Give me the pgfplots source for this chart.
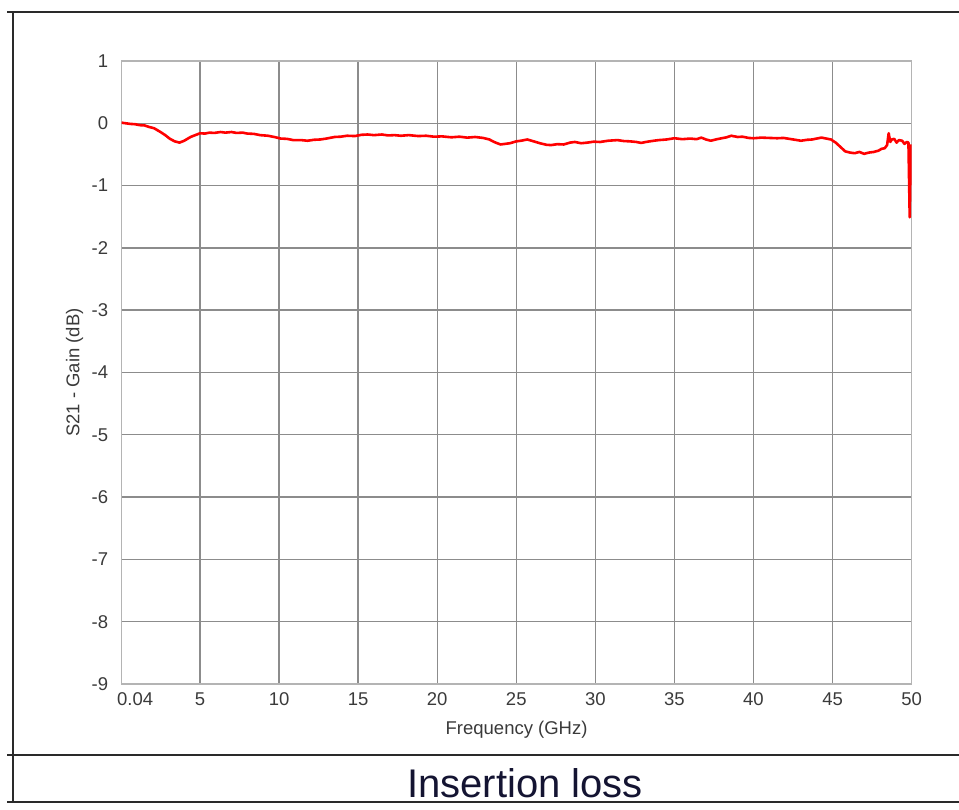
\documentclass[border=0pt]{standalone}
\usepackage{pgfplots}
\pgfplotsset{compat=1.18}
\usepackage{fontspec}
\setmainfont{Liberation Sans}
\definecolor{gridc}{HTML}{8C8C8C}
\definecolor{axc}{HTML}{B4B4B4}
\definecolor{txt}{HTML}{3A3A3A}
\definecolor{cap}{RGB}{20,20,50}
\definecolor{framec}{HTML}{2A2A2A}
\begin{document}
\begin{tikzpicture}[x=1pt,y=1pt]
\useasboundingbox (0,0) rectangle (959,809);
\begin{axis}[
  at={(121.6pt,125pt)}, anchor=south west,
  scale only axis, width=790pt, height=623pt,
  xmin=0.04, xmax=50, ymin=-9, ymax=1,
  xtick={5,10,...,50}, ytick={-9,-8,...,1},
  extra x ticks={0.04}, extra x tick labels={0.04},
  extra x tick style={grid=none, xticklabel style={anchor=north west, xshift=-8pt}},
  major tick length=0pt,
  grid=major,
  major grid style={gridc, line width=1.4pt},
  axis line style={axc, line width=1.4pt},
  ticklabel style={font=\fontsize{18.5}{20}\selectfont, text=txt},
  /pgf/number format/assume math mode=true,
  xticklabel style={yshift=-5pt},
  yticklabel style={xshift=-10pt},
  xlabel={Frequency (GHz)},
  ylabel={S21 - Gain (dB)},
  label style={font=\fontsize{18.5}{20}\selectfont, text=txt},
  xlabel style={at={(axis description cs:0.5,0)}, anchor=center, yshift=-46pt},
  ylabel style={at={(axis description cs:0,0.5)}, anchor=center, rotate=0, yshift=47pt},
]
\addplot[red, line width=2.6pt, line join=round] coordinates {
(0.04,0.01) (0.3,0.00) (0.6,-0.01) (0.9,-0.015) (1.2,-0.03) (1.5,-0.035) (1.8,-0.06)
(2.1,-0.08) (2.5,-0.14) (2.8,-0.19) (3.1,-0.25) (3.4,-0.29) (3.7,-0.31) (4.0,-0.28)
(4.4,-0.22) (4.7,-0.19) (5.0,-0.16) (5.3,-0.165) (5.6,-0.15) (5.9,-0.155) (6.3,-0.14)
(6.6,-0.15) (7.0,-0.14) (7.3,-0.155) (7.7,-0.15) (8.0,-0.165) (8.4,-0.17) (8.8,-0.19)
(9.3,-0.20) (9.7,-0.22) (10.1,-0.245) (10.5,-0.25) (10.9,-0.27) (11.4,-0.27) (11.8,-0.28)
(12.2,-0.265) (12.6,-0.26) (13.0,-0.245) (13.5,-0.22) (13.9,-0.215) (14.3,-0.20) (14.8,-0.205)
(15.2,-0.185) (15.6,-0.18) (16.0,-0.19) (16.5,-0.18) (16.9,-0.195) (17.3,-0.19) (17.7,-0.20)
(18.2,-0.19) (18.8,-0.205) (19.3,-0.20) (19.8,-0.215) (20.3,-0.21) (20.9,-0.225) (21.4,-0.215)
(21.9,-0.23) (22.4,-0.22) (22.9,-0.235) (23.3,-0.26) (23.6,-0.30) (24.0,-0.34) (24.3,-0.33)
(24.6,-0.32) (25.0,-0.29) (25.3,-0.28) (25.7,-0.26) (26.1,-0.29) (26.5,-0.32) (26.9,-0.345)
(27.2,-0.35) (27.6,-0.335) (28.0,-0.34) (28.4,-0.31) (28.7,-0.30) (29.1,-0.32) (29.5,-0.31)
(29.9,-0.295) (30.3,-0.30) (30.8,-0.28) (31.4,-0.27) (31.8,-0.285) (32.2,-0.29) (32.6,-0.30)
(32.9,-0.315) (33.3,-0.295) (33.7,-0.28) (34.0,-0.27) (34.5,-0.26) (35.0,-0.24) (35.5,-0.255)
(36.0,-0.245) (36.4,-0.255) (36.7,-0.23) (37.0,-0.26) (37.3,-0.28) (37.7,-0.255) (38.0,-0.24)
(38.3,-0.225) (38.6,-0.20) (39.0,-0.22) (39.3,-0.215) (39.7,-0.235) (40.0,-0.24) (40.5,-0.23)
(41.0,-0.235) (41.5,-0.24) (41.9,-0.235) (42.4,-0.255) (43.0,-0.28) (43.4,-0.265) (43.7,-0.26)
(44.0,-0.245) (44.3,-0.23) (44.6,-0.245) (44.9,-0.26) (45.2,-0.31) (45.5,-0.38) (45.8,-0.45)
(46.1,-0.47) (46.4,-0.48) (46.7,-0.46) (47.0,-0.49) (47.3,-0.47) (47.6,-0.46) (47.9,-0.44)
(48.1,-0.41) (48.3,-0.40) (48.45,-0.35) (48.55,-0.16) (48.65,-0.30) (48.75,-0.26) (48.9,-0.25)
(49.05,-0.31) (49.2,-0.27) (49.4,-0.28) (49.55,-0.33) (49.7,-0.30) (49.8,-0.31)
(49.88,-1.51) (49.95,-0.34)
};
\end{axis}
\draw[framec, line width=2pt] (7,797) -- (959,797);
\draw[framec, line width=2pt] (13,797) -- (13,7);
\draw[framec, line width=2pt] (7,54) -- (959,54);
\draw[framec, line width=2pt] (7,7) -- (959,7);
\node[text=cap, font=\fontsize{40}{44}\selectfont, anchor=base] at (525,12) {Insertion loss};
\end{tikzpicture}
\end{document}
